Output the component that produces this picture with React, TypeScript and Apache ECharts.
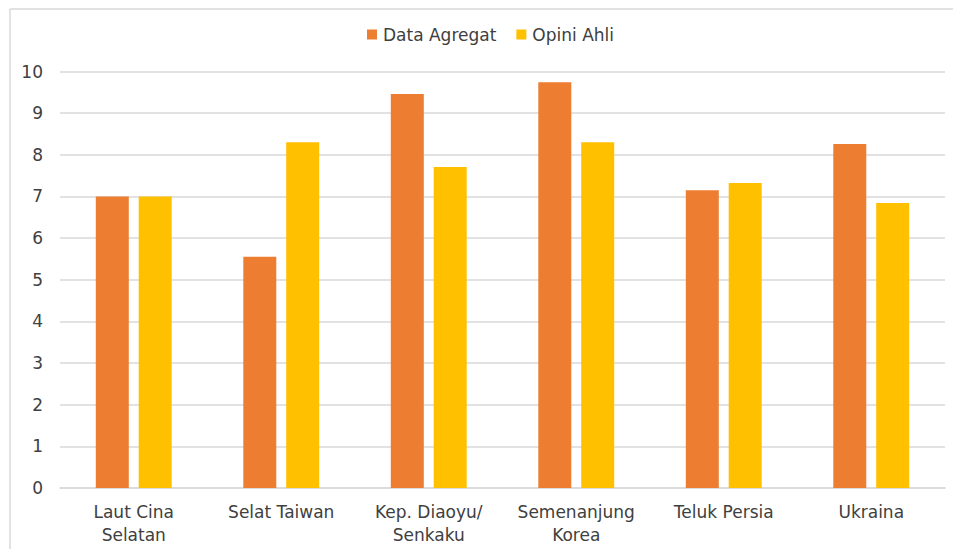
import React, { useEffect, useRef } from "react";
import * as echarts from "echarts";

const categories = ["Laut Cina\nSelatan", "Selat Taiwan", "Kep. Diaoyu/\nSenkaku", "Semenanjung\nKorea", "Teluk Persia", "Ukraina"];
const dataAgregat = [7.0, 5.55, 9.46, 9.74, 7.15, 8.26];
const opiniAhli = [7.0, 8.3, 7.71, 8.3, 7.32, 6.84];
const yTicks = { min: 0, max: 10, interval: 1 };

export default function App() {
  const ref = useRef<HTMLDivElement>(null);
  useEffect(() => {
    const chart = echarts.init(ref.current!, null, { renderer: "svg" });
    const font = "DejaVu Sans, Liberation Sans, sans-serif";
    chart.setOption({
      animation: false,
      backgroundColor: "#ffffff",
      textStyle: { fontFamily: font },
      legend: {
        top: 21,
        left: 362,
        itemWidth: 10,
        itemHeight: 10,
        itemGap: 20,
        icon: "rect",
        textStyle: { fontSize: 17, color: "#404040", fontFamily: font, padding: [0, 0, 0, 1] },
        data: ["Data Agregat", "Opini Ahli"],
      },
      grid: { left: 60, right: 8, top: 71.5, bottom: 61, containLabel: false },
      xAxis: {
        type: "category",
        data: categories,
        axisTick: { show: false },
        axisLine: { lineStyle: { color: "#d9d9d9", width: 1.5 } },
        axisLabel: { color: "#404040", fontSize: 17, lineHeight: 23, margin: 12, interval: 0, fontFamily: font },
      },
      yAxis: {
        type: "value",
        min: yTicks.min,
        max: yTicks.max,
        interval: yTicks.interval,
        axisLine: { show: false },
        axisTick: { show: false },
        splitLine: { lineStyle: { color: "#d9d9d9", width: 1.5 } },
        axisLabel: { color: "#404040", fontSize: 17, margin: 17, fontFamily: font },
      },
      series: [
        {
          name: "Data Agregat",
          type: "bar",
          data: dataAgregat,
          barWidth: 33,
          barGap: "30%",
          itemStyle: { color: "#ED7D31" },
        },
        {
          name: "Opini Ahli",
          type: "bar",
          data: opiniAhli,
          barWidth: 33,
          itemStyle: { color: "#FFC000" },
        },
      ],
      graphic: [
        { type: "line", shape: { x1: 10, y1: 9, x2: 953, y2: 9 }, style: { stroke: "#d9d9d9", lineWidth: 1.5 } },
        { type: "line", shape: { x1: 10, y1: 9, x2: 10, y2: 549 }, style: { stroke: "#d9d9d9", lineWidth: 1.5 } },
      ],
    });
    return () => chart.dispose();
  }, []);
  return <div ref={ref} style={{ width: 953, height: 549, position: "fixed", left: 0, top: 0 }} />;
}
